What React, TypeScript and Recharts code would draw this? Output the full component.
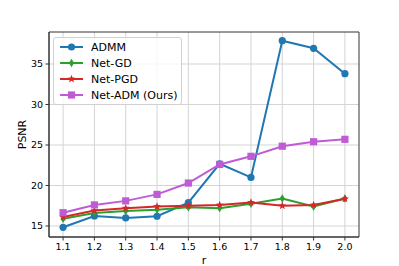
import React from 'react';
import { LineChart, Line, XAxis, YAxis, CartesianGrid, Legend, ReferenceArea } from 'recharts';

const rValues = [1.1, 1.2, 1.3, 1.4, 1.5, 1.6, 1.7, 1.8, 1.9, 2.0];
const admm = [14.84, 16.23, 15.99, 16.2, 17.88, 22.68, 21.0, 37.88, 36.94, 33.8];
const netGD = [15.9, 16.6, 16.85, 17.0, 17.3, 17.2, 17.75, 18.4, 17.4, 18.4];
const netPGD = [16.1, 16.9, 17.2, 17.4, 17.5, 17.6, 17.9, 17.5, 17.6, 18.35];
const netADM = [16.64, 17.6, 18.1, 18.9, 20.3, 22.6, 23.6, 24.85, 25.4, 25.7];
const yTicks = [15, 20, 25, 30, 35];

const data = rValues.map((r, i) => ({ r, admm: admm[i], netGD: netGD[i], netPGD: netPGD[i], netADM: netADM[i] }));

const C_ADMM = '#1f77b4';
const C_GD = '#2ca02c';
const C_PGD = '#d62728';
const C_ADM = '#c05bd6';

type Shape = 'circle' | 'diamond' | 'star' | 'square';

function marker(shape: Shape, cx: number, cy: number, color: string, key?: any) {
  if (shape === 'circle') return <circle key={key} cx={cx} cy={cy} r={3.6} fill={color} />;
  if (shape === 'square') return <rect key={key} x={cx - 3.6} y={cy - 3.6} width={7.2} height={7.2} fill={color} />;
  if (shape === 'diamond') {
    const w = 2.6, h = 4.2;
    return <polygon key={key} points={`${cx},${cy - h} ${cx + w},${cy} ${cx},${cy + h} ${cx - w},${cy}`} fill={color} />;
  }
  const pts: string[] = [];
  const R = 4.2, r = 1.8;
  for (let i = 0; i < 10; i++) {
    const a = -Math.PI / 2 + (i * Math.PI) / 5;
    const rad = i % 2 === 0 ? R : r;
    pts.push(`${cx + rad * Math.cos(a)},${cy + rad * Math.sin(a)}`);
  }
  return <polygon key={key} points={pts.join(' ')} fill={color} />;
}

const makeDot = (shape: Shape, color: string) => (props: any) => {
  const { cx, cy, index } = props;
  if (cx == null || cy == null) return <g key={index} />;
  return marker(shape, cx, cy, color, index);
};

const legendItems: { name: string; color: string; shape: Shape }[] = [
  { name: 'ADMM', color: C_ADMM, shape: 'circle' },
  { name: 'Net-GD', color: C_GD, shape: 'diamond' },
  { name: 'Net-PGD', color: C_PGD, shape: 'star' },
  { name: 'Net-ADM (Ours)', color: C_ADM, shape: 'square' },
];

const LegendBox = () => (
  <div
    style={{
      border: '1px solid #d0d0d0',
      borderRadius: 3,
      background: 'rgba(255,255,255,0.8)',
      padding: '1px 4px 2px 5px',
      boxSizing: 'border-box',
      width: 129,
      height: 68,
      fontFamily: 'DejaVu Sans',
      fontSize: 11,
      color: '#000',
    }}
  >
    {legendItems.map((it) => (
      <div key={it.name} style={{ display: 'flex', alignItems: 'center', height: 16 }}>
        <svg width={27} height={12} style={{ marginRight: 5, flexShrink: 0 }}>
          <line x1={1} y1={6} x2={24} y2={6} stroke={it.color} strokeWidth={2} />
          {marker(it.shape, 12.5, 6, it.color)}
        </svg>
        <span style={{ whiteSpace: 'nowrap' }}>{it.name}</span>
      </div>
    ))}
  </div>
);

export default function App() {
  const tickStyle = { fontFamily: 'DejaVu Sans', fontSize: 9.5, fill: '#000' };
  return (
    <div style={{ position: 'absolute', left: 0, top: 0, width: 399, height: 266, background: '#fff' }}>
      <LineChart width={399} height={266} data={data} margin={{ top: 32, right: 40, bottom: 0, left: 0 }}>
        <CartesianGrid stroke="#d4d4d4" strokeWidth={1} verticalValues={rValues} horizontalValues={yTicks} />
        <XAxis
          dataKey="r"
          type="number"
          domain={[1.055, 2.045]}
          ticks={rValues}
          tickFormatter={(v: number) => v.toFixed(1)}
          allowDataOverflow
          height={29}
          tick={tickStyle}
          tickSize={3.5}
          tickMargin={2.5}
          axisLine={{ stroke: '#333' }}
          tickLine={{ stroke: '#333' }}
          label={{ value: 'r', position: 'insideBottom', offset: 2, style: { fontFamily: 'DejaVu Sans', fontSize: 11, fill: '#000' } }}
        />
        <YAxis
          type="number"
          domain={[13.64, 38.95]}
          ticks={yTicks}
          allowDataOverflow
          width={49}
          tick={tickStyle}
          tickSize={3.5}
          tickMargin={2.5}
          axisLine={{ stroke: '#333' }}
          tickLine={{ stroke: '#333' }}
          label={{ value: 'PSNR', angle: -90, position: 'insideLeft', offset: 22, style: { fontFamily: 'DejaVu Sans', fontSize: 11, fill: '#000', textAnchor: 'middle' } }}
        />
        <ReferenceArea x1={1.055} x2={2.045} y1={13.64} y2={38.95} fill="none" stroke="#333" strokeWidth={1} ifOverflow="visible" />
        <Line dataKey="admm" stroke={C_ADMM} strokeWidth={2} dot={makeDot('circle', C_ADMM)} isAnimationActive={false} />
        <Line dataKey="netGD" stroke={C_GD} strokeWidth={2} dot={makeDot('diamond', C_GD)} isAnimationActive={false} />
        <Line dataKey="netPGD" stroke={C_PGD} strokeWidth={2} dot={makeDot('star', C_PGD)} isAnimationActive={false} />
        <Line dataKey="netADM" stroke={C_ADM} strokeWidth={2} dot={makeDot('square', C_ADM)} isAnimationActive={false} />
        <Legend
          layout="horizontal"
          verticalAlign="middle"
          align="center"
          content={() => <LegendBox />}
          wrapperStyle={{ position: 'absolute', left: 53, top: 37, width: 129, height: 68 }}
        />
      </LineChart>
    </div>
  );
}
